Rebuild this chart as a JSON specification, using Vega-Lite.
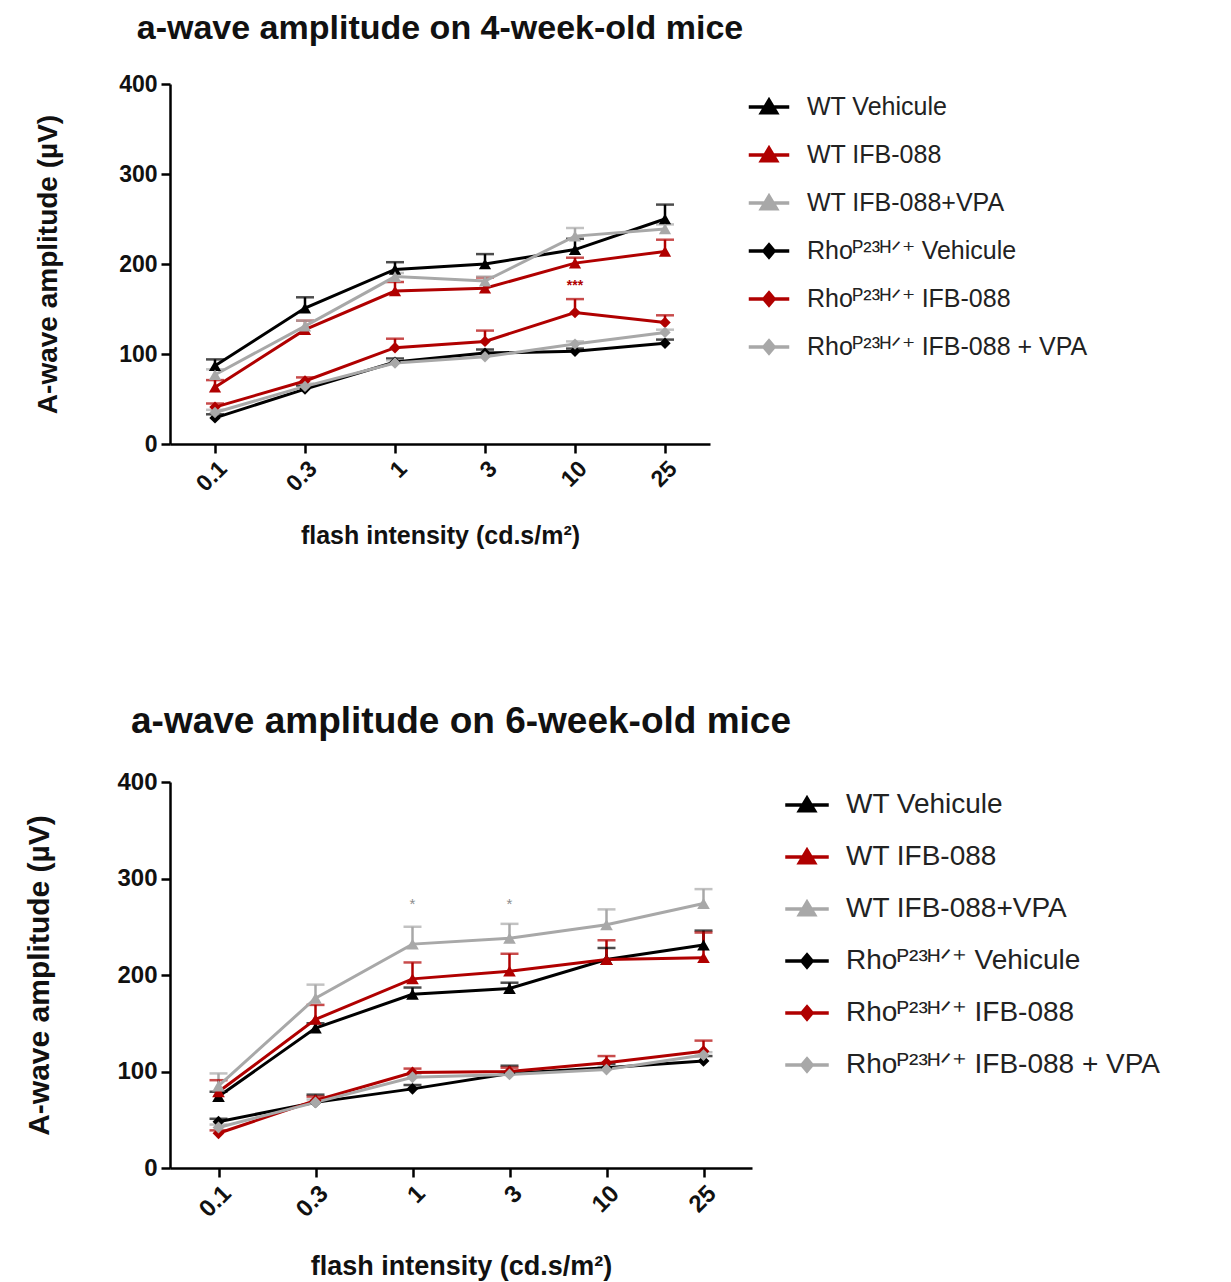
{
  "$schema": "https://vega.github.io/schema/vega-lite/v6.json",
  "padding": {"left": 24, "top": 12, "right": 5, "bottom": 5},
  "background": "white",
  "datasets": {
    "top": [
      {"x": "0.1", "series": "WT Vehicule", "y": 87, "hi": 94},
      {"x": "0.3", "series": "WT Vehicule", "y": 151, "hi": 163},
      {"x": "1", "series": "WT Vehicule", "y": 194, "hi": 202},
      {"x": "3", "series": "WT Vehicule", "y": 200, "hi": 211},
      {"x": "10", "series": "WT Vehicule", "y": 216, "hi": 228},
      {"x": "25", "series": "WT Vehicule", "y": 250, "hi": 266},
      {"x": "0.1", "series": "WT IFB-088", "y": 63, "hi": 71},
      {"x": "0.3", "series": "WT IFB-088", "y": 127, "hi": 137},
      {"x": "1", "series": "WT IFB-088", "y": 170, "hi": 180},
      {"x": "3", "series": "WT IFB-088", "y": 173, "hi": 185},
      {"x": "10", "series": "WT IFB-088", "y": 201, "hi": 207},
      {"x": "25", "series": "WT IFB-088", "y": 214, "hi": 227},
      {"x": "0.1", "series": "WT IFB-088+VPA", "y": 77, "hi": 83},
      {"x": "0.3", "series": "WT IFB-088+VPA", "y": 131, "hi": 137},
      {"x": "1", "series": "WT IFB-088+VPA", "y": 186, "hi": 190},
      {"x": "3", "series": "WT IFB-088+VPA", "y": 181, "hi": 186},
      {"x": "10", "series": "WT IFB-088+VPA", "y": 231, "hi": 240},
      {"x": "25", "series": "WT IFB-088+VPA", "y": 239, "hi": 244},
      {"x": "0.1", "series": "Rhoᴾ²³ᴴᐟ⁺ Vehicule", "y": 29, "hi": 33},
      {"x": "0.3", "series": "Rhoᴾ²³ᴴᐟ⁺ Vehicule", "y": 61, "hi": 65},
      {"x": "1", "series": "Rhoᴾ²³ᴴᐟ⁺ Vehicule", "y": 91, "hi": 95},
      {"x": "3", "series": "Rhoᴾ²³ᴴᐟ⁺ Vehicule", "y": 101, "hi": 105},
      {"x": "10", "series": "Rhoᴾ²³ᴴᐟ⁺ Vehicule", "y": 103, "hi": 106},
      {"x": "25", "series": "Rhoᴾ²³ᴴᐟ⁺ Vehicule", "y": 112, "hi": 116},
      {"x": "0.1", "series": "Rhoᴾ²³ᴴᐟ⁺ IFB-088", "y": 41, "hi": 45},
      {"x": "0.3", "series": "Rhoᴾ²³ᴴᐟ⁺ IFB-088", "y": 70, "hi": 74},
      {"x": "1", "series": "Rhoᴾ²³ᴴᐟ⁺ IFB-088", "y": 107, "hi": 117},
      {"x": "3", "series": "Rhoᴾ²³ᴴᐟ⁺ IFB-088", "y": 114, "hi": 126},
      {"x": "10", "series": "Rhoᴾ²³ᴴᐟ⁺ IFB-088", "y": 146, "hi": 161},
      {"x": "25", "series": "Rhoᴾ²³ᴴᐟ⁺ IFB-088", "y": 135, "hi": 143},
      {"x": "0.1", "series": "Rhoᴾ²³ᴴᐟ⁺ IFB-088 + VPA", "y": 35, "hi": 38},
      {"x": "0.3", "series": "Rhoᴾ²³ᴴᐟ⁺ IFB-088 + VPA", "y": 64, "hi": 67},
      {"x": "1", "series": "Rhoᴾ²³ᴴᐟ⁺ IFB-088 + VPA", "y": 90, "hi": 93},
      {"x": "3", "series": "Rhoᴾ²³ᴴᐟ⁺ IFB-088 + VPA", "y": 97, "hi": 100},
      {"x": "10", "series": "Rhoᴾ²³ᴴᐟ⁺ IFB-088 + VPA", "y": 111, "hi": 114},
      {"x": "25", "series": "Rhoᴾ²³ᴴᐟ⁺ IFB-088 + VPA", "y": 124, "hi": 127}
    ],
    "bottom": [
      {"x": "0.1", "series": "WT Vehicule", "y": 74, "hi": 79},
      {"x": "0.3", "series": "WT Vehicule", "y": 145, "hi": 150},
      {"x": "1", "series": "WT Vehicule", "y": 180, "hi": 187},
      {"x": "3", "series": "WT Vehicule", "y": 186, "hi": 192},
      {"x": "10", "series": "WT Vehicule", "y": 216, "hi": 228},
      {"x": "25", "series": "WT Vehicule", "y": 231, "hi": 246},
      {"x": "0.1", "series": "WT IFB-088", "y": 79, "hi": 91},
      {"x": "0.3", "series": "WT IFB-088", "y": 154, "hi": 169},
      {"x": "1", "series": "WT IFB-088", "y": 196, "hi": 213},
      {"x": "3", "series": "WT IFB-088", "y": 204, "hi": 222},
      {"x": "10", "series": "WT IFB-088", "y": 216, "hi": 236},
      {"x": "25", "series": "WT IFB-088", "y": 218, "hi": 244},
      {"x": "0.1", "series": "WT IFB-088+VPA", "y": 85, "hi": 98},
      {"x": "0.3", "series": "WT IFB-088+VPA", "y": 176, "hi": 190},
      {"x": "1", "series": "WT IFB-088+VPA", "y": 232, "hi": 250},
      {"x": "3", "series": "WT IFB-088+VPA", "y": 238, "hi": 253},
      {"x": "10", "series": "WT IFB-088+VPA", "y": 252, "hi": 268},
      {"x": "25", "series": "WT IFB-088+VPA", "y": 274, "hi": 289},
      {"x": "0.1", "series": "Rhoᴾ²³ᴴᐟ⁺ Vehicule", "y": 48, "hi": 51},
      {"x": "0.3", "series": "Rhoᴾ²³ᴴᐟ⁺ Vehicule", "y": 68, "hi": 76},
      {"x": "1", "series": "Rhoᴾ²³ᴴᐟ⁺ Vehicule", "y": 82, "hi": 86},
      {"x": "3", "series": "Rhoᴾ²³ᴴᐟ⁺ Vehicule", "y": 98, "hi": 106},
      {"x": "10", "series": "Rhoᴾ²³ᴴᐟ⁺ Vehicule", "y": 104, "hi": 108},
      {"x": "25", "series": "Rhoᴾ²³ᴴᐟ⁺ Vehicule", "y": 111, "hi": 116},
      {"x": "0.1", "series": "Rhoᴾ²³ᴴᐟ⁺ IFB-088", "y": 36, "hi": 39},
      {"x": "0.3", "series": "Rhoᴾ²³ᴴᐟ⁺ IFB-088", "y": 70, "hi": 74},
      {"x": "1", "series": "Rhoᴾ²³ᴴᐟ⁺ IFB-088", "y": 99, "hi": 103},
      {"x": "3", "series": "Rhoᴾ²³ᴴᐟ⁺ IFB-088", "y": 100, "hi": 104},
      {"x": "10", "series": "Rhoᴾ²³ᴴᐟ⁺ IFB-088", "y": 109, "hi": 116},
      {"x": "25", "series": "Rhoᴾ²³ᴴᐟ⁺ IFB-088", "y": 121, "hi": 132},
      {"x": "0.1", "series": "Rhoᴾ²³ᴴᐟ⁺ IFB-088 + VPA", "y": 42, "hi": 45},
      {"x": "0.3", "series": "Rhoᴾ²³ᴴᐟ⁺ IFB-088 + VPA", "y": 68, "hi": 71},
      {"x": "1", "series": "Rhoᴾ²³ᴴᐟ⁺ IFB-088 + VPA", "y": 94, "hi": 97},
      {"x": "3", "series": "Rhoᴾ²³ᴴᐟ⁺ IFB-088 + VPA", "y": 97, "hi": 100},
      {"x": "10", "series": "Rhoᴾ²³ᴴᐟ⁺ IFB-088 + VPA", "y": 102, "hi": 105},
      {"x": "25", "series": "Rhoᴾ²³ᴴᐟ⁺ IFB-088 + VPA", "y": 117, "hi": 120}
    ],
    "topNotes": [
      {"x": "10", "y": 176, "label": "***"}
    ],
    "bottomNotes": [
      {"x": "1", "y": 274, "label": "*"},
      {"x": "3", "y": 274, "label": "*"}
    ]
  },
  "spacing": 154,
  "resolve": {"scale": {"color": "independent", "shape": "independent", "stroke": "independent", "x": "independent", "y": "independent"}},
  "vconcat": [
    {
      "title": {"text": "a-wave amplitude on 4-week-old mice", "fontSize": 34, "offset": 27},
      "width": 540,
      "height": 360,
      "layer": [
        {
          "data": {"name": "top"},
          "mark": {"type": "rule", "strokeWidth": 2.5},
          "encoding": {
            "x": {"field": "x", "type": "ordinal", "sort": ["0.1", "0.3", "1", "3", "10", "25"], "scale": {"type": "point", "padding": 0.5},
                  "axis": {"title": "flash intensity (cd.s/m²)", "labelAngle": -45, "titleFontSize": 25, "titlePadding": 28}},
            "y": {"field": "y", "type": "quantitative", "scale": {"domain": [0, 400]},
                  "axis": {"title": "A-wave amplitude (µV)", "values": [0, 100, 200, 300, 400], "titleFontSize": 28, "titlePadding": 56}},
            "y2": {"field": "hi"},
            "color": {"field": "series", "type": "nominal",
                      "scale": {"domain": ["WT Vehicule", "WT IFB-088", "WT IFB-088+VPA", "Rhoᴾ²³ᴴᐟ⁺ Vehicule", "Rhoᴾ²³ᴴᐟ⁺ IFB-088", "Rhoᴾ²³ᴴᐟ⁺ IFB-088 + VPA"],
                                "range": ["#000000", "#b00000", "#a8a8a8", "#000000", "#b00000", "#a8a8a8"]},
                      "legend": {"title": null, "orient": "right", "offset": 36, "padding": 6, "labelFontSize": 25, "labelColor": "#222222", "labelFont": "Liberation Sans", "labelLimit": 500,
                                 "symbolSize": 900, "labelOffset": 21, "rowPadding": 18, "symbolStrokeWidth": 3.5, "symbolOpacity": 1}}
          }
        },
        {
          "data": {"name": "top"},
          "mark": {"type": "tick", "orient": "horizontal", "size": 18, "thickness": 2.5},
          "encoding": {
            "x": {"field": "x", "type": "ordinal", "sort": ["0.1", "0.3", "1", "3", "10", "25"]},
            "y": {"field": "hi", "type": "quantitative"},
            "color": {"field": "series", "type": "nominal"}
          }
        },
        {
          "data": {"name": "top"},
          "mark": {"type": "line", "strokeWidth": 3},
          "encoding": {
            "x": {"field": "x", "type": "ordinal", "sort": ["0.1", "0.3", "1", "3", "10", "25"]},
            "y": {"field": "y", "type": "quantitative"},
            "detail": {"field": "series"},
            "color": {"field": "series", "type": "nominal"}
          }
        },
        {
          "data": {"name": "top"},
          "transform": [{"filter": "indexof(datum.series, 'WT') == 0"}],
          "mark": {"type": "point", "shape": "triangle-up", "filled": true, "opacity": 1, "size": 150},
          "encoding": {
            "x": {"field": "x", "type": "ordinal", "sort": ["0.1", "0.3", "1", "3", "10", "25"]},
            "y": {"field": "y", "type": "quantitative"},
            "color": {"field": "series", "type": "nominal"}
          }
        },
        {
          "data": {"name": "top"},
          "transform": [{"filter": "indexof(datum.series, 'Rho') == 0"}],
          "mark": {"type": "point", "shape": "diamond", "filled": true, "opacity": 1, "size": 130},
          "encoding": {
            "x": {"field": "x", "type": "ordinal", "sort": ["0.1", "0.3", "1", "3", "10", "25"]},
            "y": {"field": "y", "type": "quantitative"},
            "color": {"field": "series", "type": "nominal"}
          }
        },
        {
          "data": {"name": "top"},
          "transform": [{"filter": "datum.y < 0"}],
          "mark": {"type": "point", "filled": true, "opacity": 1, "fillOpacity": 1, "strokeOpacity": 1, "strokeWidth": 3.5},
          "encoding": {
            "x": {"field": "x", "type": "ordinal", "sort": ["0.1", "0.3", "1", "3", "10", "25"]},
            "y": {"field": "y", "type": "quantitative"},
            "color": {"field": "series", "type": "nominal"},
            "stroke": {"field": "series", "type": "nominal",
                       "scale": {"domain": ["WT Vehicule", "WT IFB-088", "WT IFB-088+VPA", "Rhoᴾ²³ᴴᐟ⁺ Vehicule", "Rhoᴾ²³ᴴᐟ⁺ IFB-088", "Rhoᴾ²³ᴴᐟ⁺ IFB-088 + VPA"],
                                 "range": ["#000000", "#b00000", "#a8a8a8", "#000000", "#b00000", "#a8a8a8"]}},
            "shape": {"field": "series", "type": "nominal",
                      "scale": {"domain": ["WT Vehicule", "WT IFB-088", "WT IFB-088+VPA", "Rhoᴾ²³ᴴᐟ⁺ Vehicule", "Rhoᴾ²³ᴴᐟ⁺ IFB-088", "Rhoᴾ²³ᴴᐟ⁺ IFB-088 + VPA"],
                                "range": ["M-1.35,0H1.35M0,-0.45L0.5,0.38H-0.5Z", "M-1.35,0H1.35M0,-0.45L0.5,0.38H-0.5Z", "M-1.35,0H1.35M0,-0.45L0.5,0.38H-0.5Z", "M-1.35,0H1.35M0,-0.4L0.34,0L0,0.4L-0.34,0Z", "M-1.35,0H1.35M0,-0.4L0.34,0L0,0.4L-0.34,0Z", "M-1.35,0H1.35M0,-0.4L0.34,0L0,0.4L-0.34,0Z"]}}
          }
        },
        {
          "data": {"name": "topNotes"},
          "mark": {"type": "text", "color": "#b00000", "fontSize": 14, "fontWeight": "bold"},
          "encoding": {
            "x": {"field": "x", "type": "ordinal", "sort": ["0.1", "0.3", "1", "3", "10", "25"]},
            "y": {"field": "y", "type": "quantitative"},
            "text": {"field": "label"}
          }
        }
      ]
    },
    {
      "title": {"text": "a-wave amplitude on 6-week-old mice", "fontSize": 37, "offset": 29},
      "width": 582,
      "height": 386,
      "layer": [
        {
          "data": {"name": "bottom"},
          "mark": {"type": "rule", "strokeWidth": 2.5},
          "encoding": {
            "x": {"field": "x", "type": "ordinal", "sort": ["0.1", "0.3", "1", "3", "10", "25"], "scale": {"type": "point", "padding": 0.5},
                  "axis": {"title": "flash intensity (cd.s/m²)", "labelAngle": -45, "titleFontSize": 27, "titlePadding": 32, "labelFontSize": 24}},
            "y": {"field": "y", "type": "quantitative", "scale": {"domain": [0, 400]},
                  "axis": {"title": "A-wave amplitude (µV)", "values": [0, 100, 200, 300, 400], "titleFontSize": 30, "titlePadding": 62, "labelFontSize": 24}},
            "y2": {"field": "hi"},
            "color": {"field": "series", "type": "nominal",
                      "scale": {"domain": ["WT Vehicule", "WT IFB-088", "WT IFB-088+VPA", "Rhoᴾ²³ᴴᐟ⁺ Vehicule", "Rhoᴾ²³ᴴᐟ⁺ IFB-088", "Rhoᴾ²³ᴴᐟ⁺ IFB-088 + VPA"],
                                "range": ["#000000", "#b00000", "#a8a8a8", "#000000", "#b00000", "#a8a8a8"]},
                      "legend": {"title": null, "orient": "right", "offset": 32, "padding": 6, "labelFontSize": 28, "labelColor": "#222222", "labelFont": "Liberation Sans", "labelLimit": 500,
                                 "symbolSize": 900, "labelOffset": 22, "rowPadding": 21, "symbolStrokeWidth": 3.5, "symbolOpacity": 1}}
          }
        },
        {
          "data": {"name": "bottom"},
          "mark": {"type": "tick", "orient": "horizontal", "size": 18, "thickness": 2.5},
          "encoding": {
            "x": {"field": "x", "type": "ordinal", "sort": ["0.1", "0.3", "1", "3", "10", "25"]},
            "y": {"field": "hi", "type": "quantitative"},
            "color": {"field": "series", "type": "nominal"}
          }
        },
        {
          "data": {"name": "bottom"},
          "mark": {"type": "line", "strokeWidth": 3},
          "encoding": {
            "x": {"field": "x", "type": "ordinal", "sort": ["0.1", "0.3", "1", "3", "10", "25"]},
            "y": {"field": "y", "type": "quantitative"},
            "detail": {"field": "series"},
            "color": {"field": "series", "type": "nominal"}
          }
        },
        {
          "data": {"name": "bottom"},
          "transform": [{"filter": "indexof(datum.series, 'WT') == 0"}],
          "mark": {"type": "point", "shape": "triangle-up", "filled": true, "opacity": 1, "size": 160},
          "encoding": {
            "x": {"field": "x", "type": "ordinal", "sort": ["0.1", "0.3", "1", "3", "10", "25"]},
            "y": {"field": "y", "type": "quantitative"},
            "color": {"field": "series", "type": "nominal"}
          }
        },
        {
          "data": {"name": "bottom"},
          "transform": [{"filter": "indexof(datum.series, 'Rho') == 0"}],
          "mark": {"type": "point", "shape": "diamond", "filled": true, "opacity": 1, "size": 140},
          "encoding": {
            "x": {"field": "x", "type": "ordinal", "sort": ["0.1", "0.3", "1", "3", "10", "25"]},
            "y": {"field": "y", "type": "quantitative"},
            "color": {"field": "series", "type": "nominal"}
          }
        },
        {
          "data": {"name": "bottom"},
          "transform": [{"filter": "datum.y < 0"}],
          "mark": {"type": "point", "filled": true, "opacity": 1, "fillOpacity": 1, "strokeOpacity": 1, "strokeWidth": 3.5},
          "encoding": {
            "x": {"field": "x", "type": "ordinal", "sort": ["0.1", "0.3", "1", "3", "10", "25"]},
            "y": {"field": "y", "type": "quantitative"},
            "color": {"field": "series", "type": "nominal"},
            "stroke": {"field": "series", "type": "nominal",
                       "scale": {"domain": ["WT Vehicule", "WT IFB-088", "WT IFB-088+VPA", "Rhoᴾ²³ᴴᐟ⁺ Vehicule", "Rhoᴾ²³ᴴᐟ⁺ IFB-088", "Rhoᴾ²³ᴴᐟ⁺ IFB-088 + VPA"],
                                 "range": ["#000000", "#b00000", "#a8a8a8", "#000000", "#b00000", "#a8a8a8"]}},
            "shape": {"field": "series", "type": "nominal",
                      "scale": {"domain": ["WT Vehicule", "WT IFB-088", "WT IFB-088+VPA", "Rhoᴾ²³ᴴᐟ⁺ Vehicule", "Rhoᴾ²³ᴴᐟ⁺ IFB-088", "Rhoᴾ²³ᴴᐟ⁺ IFB-088 + VPA"],
                                "range": ["M-1.45,0H1.45M0,-0.45L0.5,0.38H-0.5Z", "M-1.45,0H1.45M0,-0.45L0.5,0.38H-0.5Z", "M-1.45,0H1.45M0,-0.45L0.5,0.38H-0.5Z", "M-1.45,0H1.45M0,-0.4L0.34,0L0,0.4L-0.34,0Z", "M-1.45,0H1.45M0,-0.4L0.34,0L0,0.4L-0.34,0Z", "M-1.45,0H1.45M0,-0.4L0.34,0L0,0.4L-0.34,0Z"]}}
          }
        },
        {
          "data": {"name": "bottomNotes"},
          "mark": {"type": "text", "color": "#8c8c8c", "fontSize": 15},
          "encoding": {
            "x": {"field": "x", "type": "ordinal", "sort": ["0.1", "0.3", "1", "3", "10", "25"]},
            "y": {"field": "y", "type": "quantitative"},
            "text": {"field": "label"}
          }
        }
      ]
    }
  ],
  "config": {
    "font": "Liberation Sans",
    "view": {"stroke": null},
    "legend": {"symbolOpacity": 1},
    "title": {"font": "Liberation Sans", "fontWeight": "bold", "color": "#111111", "anchor": "middle", "frame": "group"},
    "axis": {
      "grid": false,
      "domainColor": "#000000",
      "domainWidth": 2.5,
      "tickColor": "#000000",
      "tickWidth": 2.5,
      "tickSize": 9,
      "labelFont": "Liberation Sans",
      "labelFontWeight": "bold",
      "labelFontSize": 23,
      "labelColor": "#111111",
      "labelPadding": 4,
      "titleFont": "Liberation Sans",
      "titleFontWeight": "bold",
      "titleColor": "#111111"
    }
  }
}
